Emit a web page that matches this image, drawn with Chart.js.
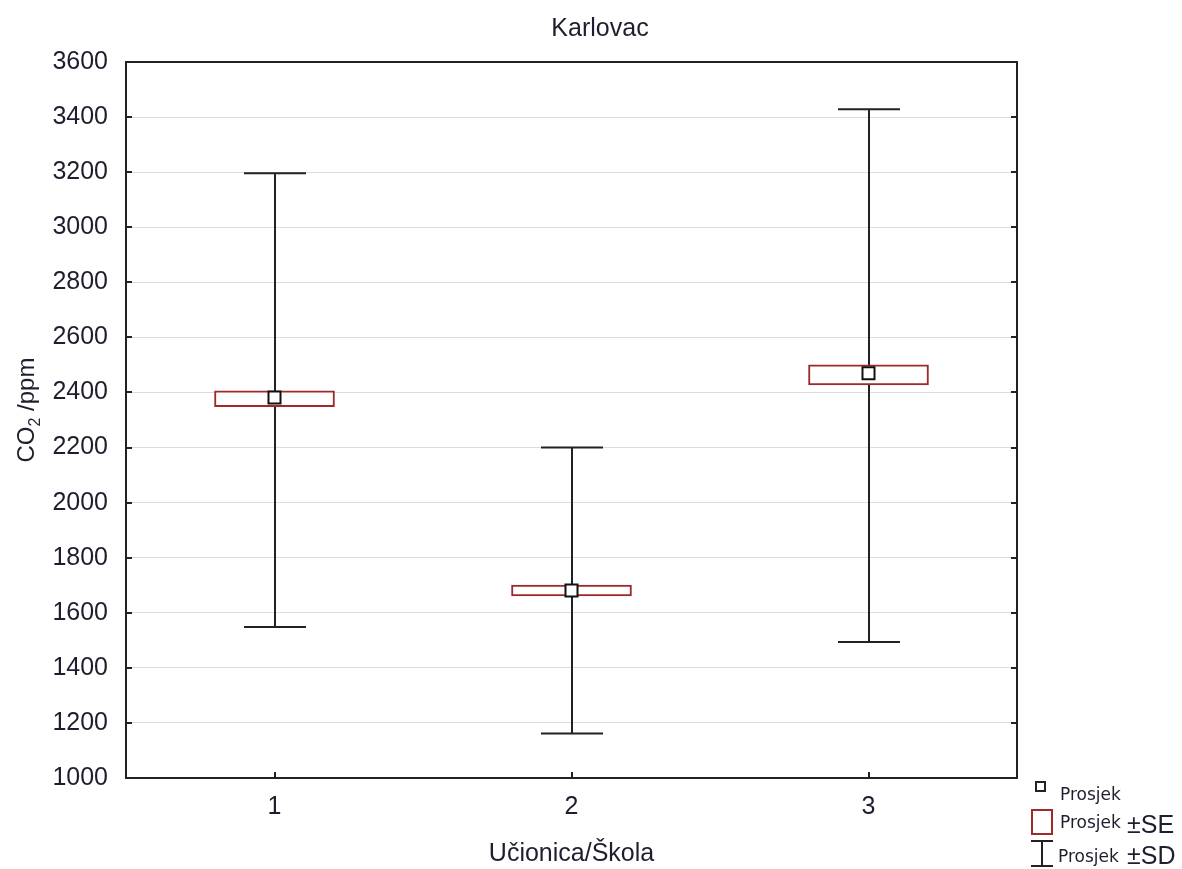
<!DOCTYPE html>
<html>
<head>
<meta charset="utf-8">
<title>Karlovac</title>
<script src="https://cdn.jsdelivr.net/npm/chart.js@4/dist/chart.umd.min.js"></script>
<style>
  body { margin: 0; background: #fff; }
  #wrap { width: 1182px; height: 869px; position: relative; }
</style>
</head>
<body>
<div id="wrap"><canvas id="Chart"></canvas></div>
<script>
const categories = ["1", "2", "3"];
const means = [2382, 1681, 2470]; // Prosjek
const seLow = [2348, 1661, 2427]; // Prosjek -SE
const seHigh = [2406, 1701, 2500]; // Prosjek +SE
const sdLow = [1548, 1162, 1494]; // Prosjek -SD
const sdHigh = [3196, 2200, 3428]; // Prosjek +SD
const yTickValues = [1000, 1200, 1400, 1600, 1800, 2000, 2200, 2400, 2600, 2800, 3000, 3200, 3400, 3600];

const textColor = "#1e1e2e";
const lineColor = "#222";
const boxColor = "#9e2a2b";
const font = "'Liberation Sans', Arial, sans-serif";

// whiskers go under the boxes, frame + legend on top
const boxPlot = {
  id: "boxPlot",
  beforeDatasetsDraw(chart) {
    const { ctx, scales } = chart;
    ctx.save();
    ctx.strokeStyle = lineColor;
    ctx.lineWidth = 2;
    categories.forEach((c, i) => {
      const px = Math.round(scales.x.getPixelForValue(i));
      const top = scales.y.getPixelForValue(sdHigh[i]);
      const bot = scales.y.getPixelForValue(sdLow[i]);
      ctx.beginPath();
      ctx.moveTo(px, top);
      ctx.lineTo(px, bot);
      ctx.moveTo(px - 31, top);
      ctx.lineTo(px + 31, top);
      ctx.moveTo(px - 31, bot);
      ctx.lineTo(px + 31, bot);
      ctx.stroke();
    });
    ctx.restore();
  },
  afterDraw(chart) {
    const { ctx, chartArea, scales } = chart;
    const { left, right, top, bottom } = chartArea;
    ctx.save();

    // frame and inward ticks
    ctx.strokeStyle = lineColor;
    ctx.lineWidth = 2;
    ctx.strokeRect(left, top, right - left, bottom - top);
    ctx.beginPath();
    yTickValues.forEach((v) => {
      const py = Math.round(scales.y.getPixelForValue(v));
      ctx.moveTo(left, py);
      ctx.lineTo(left + 6, py);
      ctx.moveTo(right - 6, py);
      ctx.lineTo(right, py);
    });
    categories.forEach((c, i) => {
      const px = Math.round(scales.x.getPixelForValue(i));
      ctx.moveTo(px, bottom);
      ctx.lineTo(px, bottom - 6);
    });
    ctx.stroke();

    // title
    ctx.fillStyle = textColor;
    ctx.textAlign = "center";
    ctx.textBaseline = "alphabetic";
    ctx.font = "25px " + font;
    ctx.fillText("Karlovac", 600, 36);

    // y axis title with subscript
    ctx.translate(34, 410);
    ctx.rotate(-Math.PI / 2);
    ctx.font = "24px " + font;
    const w1 = ctx.measureText("CO").width;
    ctx.font = "16px " + font;
    const w2 = ctx.measureText("2").width;
    ctx.font = "24px " + font;
    const w3 = ctx.measureText(" /ppm").width;
    let x0 = -(w1 + w2 + w3) / 2;
    ctx.textAlign = "left";
    ctx.fillText("CO", x0, 0);
    ctx.font = "16px " + font;
    ctx.fillText("2", x0 + w1, 6);
    ctx.font = "24px " + font;
    ctx.fillText(" /ppm", x0 + w1 + w2, 0);
    ctx.setTransform(1, 0, 0, 1, 0, 0);

    // legend
    ctx.lineWidth = 2;
    ctx.strokeStyle = lineColor;
    ctx.fillStyle = "#fff";
    ctx.fillRect(1036, 782, 9, 9);
    ctx.strokeRect(1036, 782, 9, 9);
    ctx.strokeStyle = boxColor;
    ctx.strokeRect(1032, 810, 20, 24);
    ctx.strokeStyle = lineColor;
    ctx.beginPath();
    ctx.moveTo(1031, 841);
    ctx.lineTo(1053, 841);
    ctx.moveTo(1042, 841);
    ctx.lineTo(1042, 866);
    ctx.moveTo(1031, 866);
    ctx.lineTo(1053, 866);
    ctx.stroke();

    ctx.fillStyle = textColor;
    ctx.font = "17px 'DejaVu Sans', sans-serif";
    ctx.fillText("Prosjek", 1060, 800);
    ctx.fillText("Prosjek", 1060, 828);
    ctx.fillText("Prosjek", 1058, 862);
    ctx.font = "25px " + font;
    ctx.fillText("±SE", 1127, 833);
    ctx.fillText("±SD", 1127, 864);
    ctx.restore();
  },
};

const ctx = document.querySelector("#Chart");
const myChart = new Chart(ctx, {
  data: {
    labels: categories,
    datasets: [
      {
        type: "line",
        label: "Prosjek",
        data: means,
        showLine: false,
        pointStyle: "rect",
        pointRadius: 8.5,
        pointBorderWidth: 2,
        pointBackgroundColor: "#fff",
        pointBorderColor: "#111",
        order: 1,
      },
      {
        type: "bar",
        label: "Prosjek ±SE",
        data: seLow.map((v, i) => [v, seHigh[i]]),
        backgroundColor: "#fff",
        borderColor: boxColor,
        borderWidth: 2,
        borderSkipped: false,
        barThickness: 120,
        order: 2,
      },
    ],
  },
  options: {
    responsive: true,
    maintainAspectRatio: false,
    animation: false,
    events: [],
    layout: { padding: { top: 62, right: 165, bottom: 0, left: 0 } },
    plugins: {
      legend: { display: false },
      tooltip: { enabled: false },
      title: { display: false },
    },
    scales: {
      x: {
        type: "category",
        offset: true,
        grid: { display: false, drawTicks: false },
        border: { display: false },
        ticks: { color: textColor, font: { family: font, size: 25 }, padding: 14 },
        title: {
          display: true,
          text: "Učionica/Škola",
          color: textColor,
          font: { family: font, size: 25 },
          padding: { top: 0, bottom: 0 },
        },
        afterFit(scale) {
          scale.height = 91;
        },
      },
      y: {
        min: 1000,
        max: 3600,
        afterBuildTicks(scale) {
          scale.ticks = yTickValues.map((v) => ({ value: v }));
        },
        grid: { color: "#dcdcdc", lineWidth: 1, drawTicks: false },
        border: { display: false },
        ticks: {
          color: textColor,
          font: { family: font, size: 25 },
          padding: 18,
          callback: (v) => String(v),
        },
        afterFit(scale) {
          scale.width = 126;
        },
      },
    },
  },
  plugins: [boxPlot],
});
</script>
</body>
</html>
